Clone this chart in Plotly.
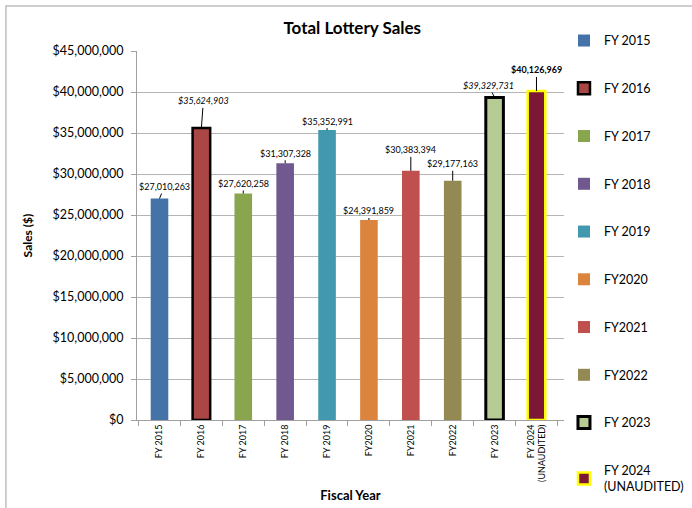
import plotly.graph_objects as go

categories = ["FY 2015", "FY 2016", "FY 2017", "FY 2018", "FY 2019",
              "FY2020", "FY2021", "FY2022", "FY 2023", "FY 2024<br>(UNAUDITED)"]
sales = [27010263, 35624903, 27620258, 31307328, 35352991,
         24391859, 30383394, 29177163, 39329731, 40126969]
y_ticks = [0, 5000000, 10000000, 15000000, 20000000, 25000000,
           30000000, 35000000, 40000000, 45000000]
y_tick_labels = ["$0", "$5,000,000", "$10,000,000", "$15,000,000", "$20,000,000",
                 "$25,000,000", "$30,000,000", "$35,000,000", "$40,000,000", "$45,000,000"]

# styles
fill_colors = ["#4572A7", "#AA4643", "#89A54E", "#71588F", "#4198AF",
               "#DB843D", "#C0504D", "#938953", "#B7CC95", "#7D1736"]
edge_colors = [None, "#000000", None, None, None, None, None, None, "#000000", "#FFFF00"]
edge_widths = [0, 2.5, 0, 0, 0, 0, 0, 0, 3, 2.5]
label_style = ["", "i", "", "", "", "", "", "", "i", "b"]
label_dx = [5, 2, 0, 0, 0, 0, 0, 0, -6, 0]
label_dy = [-12, -27, -10, -10, -9, -9, -21, -17, -12, -21]

fig = go.Figure()
for i, cat in enumerate(categories):
    fig.add_trace(go.Bar(
        x=[cat], y=[sales[i]], name=cat, legendgroup=f"g{i}",
        width=0.42,
        marker=dict(color=fill_colors[i],
                    line=dict(color=edge_colors[i] or fill_colors[i], width=edge_widths[i])),
        hoverinfo="x+y",
    ))

annotations = []
for i, cat in enumerate(categories):
    txt = f"${sales[i]:,}"
    if label_style[i]:
        txt = f"<{label_style[i]}>{txt}</{label_style[i]}>"
    annotations.append(dict(
        x=cat, y=sales[i], xref="x", yref="y", text=txt,
        showarrow=True, arrowhead=0, arrowwidth=1, arrowcolor="#000000",
        ax=label_dx[i], ay=label_dy[i], standoff=0,
        font=dict(family="Lato", size=9, color="#000000"),
    ))

fig.update_layout(
    width=692, height=508,
    margin=dict(l=137, r=125, t=51, b=88),
    paper_bgcolor="#FFFFFF", plot_bgcolor="#FFFFFF",
    barmode="overlay",
    showlegend=True,
    font=dict(family="Lato", color="#000000"),
    title=dict(text="<b>Total Lottery Sales</b>", x=0.509, xanchor="center",
               y=0.945, yanchor="middle", font=dict(family="Lato", size=17)),
    legend=dict(xref="container", yref="container", x=0.815, xanchor="left",
                y=0.949, yanchor="top",
                tracegroupgap=28.5, font=dict(family="Lato", size=12.5),
                bgcolor="rgba(0,0,0,0)", maxheight=490),
    annotations=annotations,
    shapes=[dict(type="rect", xref="paper", yref="paper",
                 x0=-0.307, x1=1.4, y0=-0.4, y1=1.122,
                 line=dict(color="#BFBFBF", width=1.5), layer="below")],
)
fig.update_xaxes(
    type="category", tickangle=-90, tickson="boundaries", automargin=False,
    ticks="outside", ticklen=5, tickcolor="#A0A0A0",
    showline=True, linecolor="#A0A0A0", linewidth=1,
    tickfont=dict(family="Lato", size=9),
    title=dict(text="<b>Fiscal Year</b>", font=dict(family="Lato", size=13), standoff=9),
)
fig.update_yaxes(
    range=[0, 45000000], tickvals=y_ticks, ticktext=y_tick_labels, automargin=False,
    ticks="outside", ticklen=5, tickcolor="#A0A0A0", ticklabelstandoff=5,
    showline=True, linecolor="#A0A0A0", linewidth=1,
    showgrid=True, gridcolor="#B4B4B4", gridwidth=1,
    tickfont=dict(family="Lato", size=12.5),
    title=dict(text="<b>Sales ($)</b>", font=dict(family="Lato", size=12), standoff=17),
)
fig.write_html("out.html", config={"displayModeBar": False},
               post_script="document.body.style.margin='0';")
